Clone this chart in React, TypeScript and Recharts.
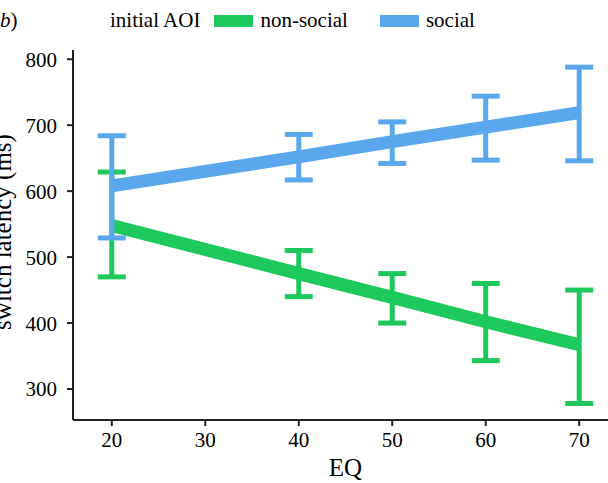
import { LineChart, Line, XAxis, YAxis, ErrorBar } from "recharts";

const eq = [20, 40, 50, 60, 70];
const socialMean = [608, 652, 675, 697, 719];
const socialLow = [529, 617, 642, 647, 646];
const socialHigh = [684, 686, 705, 744, 788];
const nonSocialMean = [548, 475, 439, 402, 367];
const nonSocialLow = [470, 440, 400, 343, 278];
const nonSocialHigh = [629, 510, 475, 460, 450];
const xTicks = [20, 30, 40, 50, 60, 70];
const yTicks = [300, 400, 500, 600, 700, 800];

const GREEN = "#1DC85C";
const BLUE = "#5AA7EE";
const FONT = "Liberation Serif, DejaVu Serif, Noto Serif, serif";

const data = eq.map((x, i) => ({
  eq: x,
  social: socialMean[i],
  socialErr: [socialMean[i] - socialLow[i], socialHigh[i] - socialMean[i]],
  nonSocial: nonSocialMean[i],
  nonSocialErr: [nonSocialMean[i] - nonSocialLow[i], nonSocialHigh[i] - nonSocialMean[i]],
}));

const tickStyle = { fontSize: 21, fill: "#000", fontFamily: FONT };

function Swatch({ color }: { color: string }) {
  return <span style={{ display: "inline-block", width: 39, height: 12, background: color }} />;
}

export default function App() {
  return (
    <div
      style={{
        position: "absolute",
        left: 0,
        top: 0,
        width: 608,
        height: 483,
        overflow: "hidden",
        background: "#fff",
        fontFamily: FONT,
      }}
    >
      <div style={{ position: "absolute", left: -7, top: 8, fontSize: 21, color: "#000" }}>
        (<i>b</i>)
      </div>
      <div
        style={{
          position: "absolute",
          left: 110,
          top: 8,
          display: "flex",
          alignItems: "center",
          fontSize: 21,
          color: "#000",
          whiteSpace: "nowrap",
        }}
      >
        <span style={{ marginRight: 14 }}>initial AOI</span>
        <Swatch color={GREEN} />
        <span style={{ marginLeft: 7, marginRight: 32 }}>non-social</span>
        <Swatch color={BLUE} />
        <span style={{ marginLeft: 7 }}>social</span>
      </div>
      <LineChart
        width={618}
        height={483}
        data={data}
        margin={{ top: 50, right: 0, bottom: 0, left: 0 }}
        style={{ fontFamily: FONT }}
      >
        <XAxis
          xAxisId="top"
          orientation="top"
          dataKey="eq"
          type="number"
          domain={[15.85, 74.15]}
          height={0}
          tick={false}
          tickLine={false}
          axisLine={{ stroke: "#888", strokeWidth: 1.5 }}
        />
        <XAxis
          dataKey="eq"
          type="number"
          domain={[15.85, 74.15]}
          ticks={xTicks}
          allowDataOverflow
          height={63}
          tick={tickStyle}
          tickSize={6}
          tickMargin={6}
          tickLine={{ stroke: "#222", strokeWidth: 2 }}
          axisLine={{ stroke: "#222", strokeWidth: 2 }}
          label={({ viewBox }: any) => (
            <text
              x={viewBox.x + viewBox.width / 2}
              y={476}
              textAnchor="middle"
              fontSize={25}
              fontFamily={FONT}
              fill="#000"
            >
              EQ
            </text>
          )}
        />
        <YAxis
          type="number"
          domain={[253, 814]}
          ticks={yTicks}
          allowDataOverflow
          width={73}
          tick={tickStyle}
          tickSize={6}
          tickMargin={10}
          tickLine={{ stroke: "#222", strokeWidth: 2 }}
          axisLine={{ stroke: "#222", strokeWidth: 2 }}
          label={({ viewBox }: any) => {
            const cy = viewBox.y + viewBox.height / 2 - 3;
            return (
              <text
                x={11}
                y={cy}
                transform={`rotate(-90, 11, ${cy})`}
                textAnchor="middle"
                fontSize={25}
                fontFamily={FONT}
                fill="#000"
              >
                switch latency (ms)
              </text>
            );
          }}
        />
        <Line
          dataKey="nonSocial"
          stroke={GREEN}
          strokeWidth={13}
          strokeLinecap="butt"
          dot={false}
          isAnimationActive={false}
        >
          <ErrorBar dataKey="nonSocialErr" direction="y" width={14} stroke={GREEN} strokeWidth={5} />
        </Line>
        <Line
          dataKey="social"
          stroke={BLUE}
          strokeWidth={13}
          strokeLinecap="butt"
          dot={false}
          isAnimationActive={false}
        >
          <ErrorBar dataKey="socialErr" direction="y" width={14} stroke={BLUE} strokeWidth={5} />
        </Line>
      </LineChart>
    </div>
  );
}
